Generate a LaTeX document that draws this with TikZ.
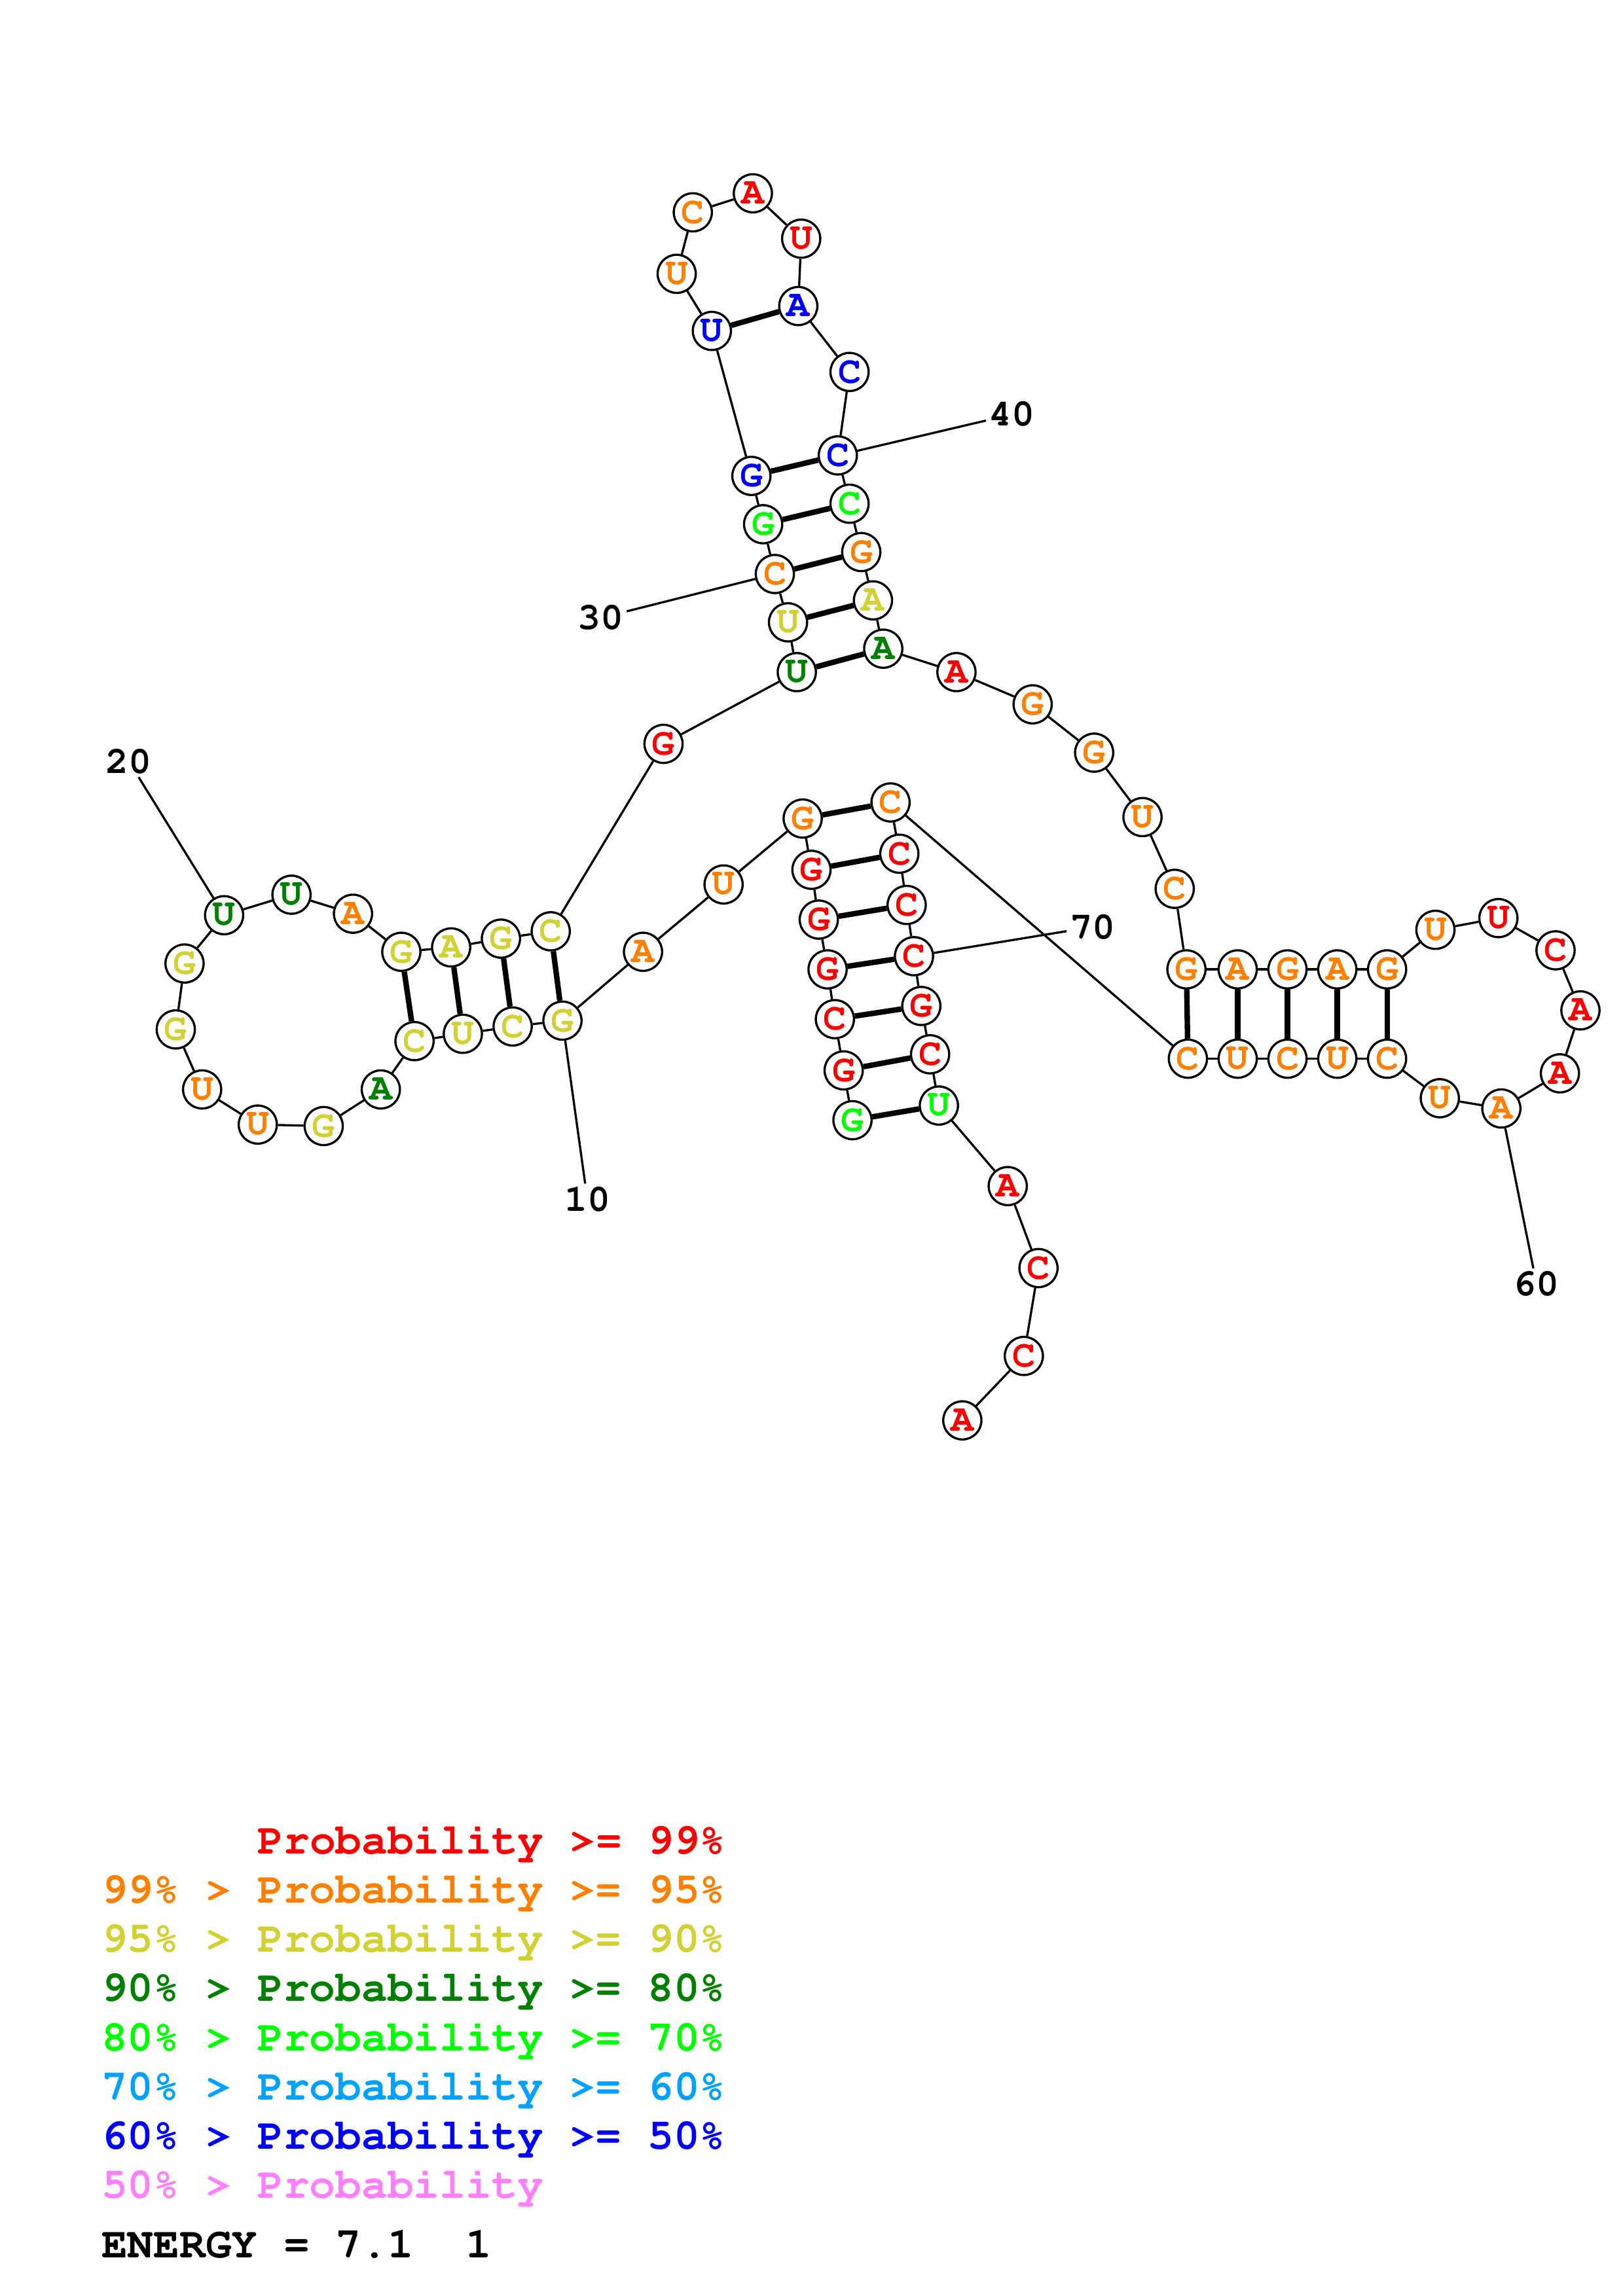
\documentclass[tikz,border=0pt]{standalone}
\usepackage[T1]{fontenc}
\usepackage{tikz}
\newcommand{\courb}[1]{\fontfamily{pcr}\fontseries{b}\fontsize{#1}{#1}\selectfont}
\definecolor{pred}{rgb}{1,0,0}
\definecolor{porange}{rgb}{1,0.5,0}
\definecolor{pyellow}{rgb}{0.82,0.82,0.2}
\definecolor{pdgreen}{rgb}{0,0.5,0}
\definecolor{plgreen}{rgb}{0,1,0}
\definecolor{plblue}{rgb}{0,0.63,1}
\definecolor{pblue}{rgb}{0,0,1}
\definecolor{ppink}{rgb}{1,0.5,1}

\begin{document}
\begin{tikzpicture}[x=0.537253pt, y=-0.537253pt,
    nuc/.style={circle, draw, line width=0.8pt, fill=white, inner sep=0pt,
      minimum size=14pt, font=\courb{14}},
    backbone/.style={line width=0.8pt},
    bond/.style={line width=2pt},
    numlbl/.style={inner sep=1pt, font=\courb{14}},
    legend/.style={anchor=base west, inner sep=0pt, font=\courb{15.9}}
  ]
    \useasboundingbox (0,0) rectangle (1108,1568);

    % nucleotides
    \foreach \i/\x/\y/\b/\c in {
      1/582/765/G/plgreen, 2/576/731/G/pred, 3/570/696/C/pred,
      4/565/662/G/pred, 5/559/628/G/pred, 6/554/594/G/pred,
      7/548/559/G/porange, 8/494/604/U/porange, 9/439/650/A/porange,
      10/384/697/G/pyellow, 11/350/701/C/pyellow, 12/316/706/U/pyellow,
      13/283/711/C/pyellow, 14/260/744/A/pdgreen, 15/221/769/G/pyellow,
      16/176/768/U/porange, 17/138/744/U/porange, 18/120/703/G/pyellow,
      19/126/658/G/pyellow, 20/153/625/U/pdgreen, 21/199/611/U/pdgreen,
      22/241/624/A/porange, 23/274/650/G/pyellow, 24/308/647/A/pyellow,
      25/342/641/G/pyellow, 26/376/636/C/pyellow, 27/453/508/G/pred,
      28/544/459/U/pdgreen, 29/538/425/U/pyellow, 30/529/392/C/porange,
      31/521/358/G/plgreen, 32/513/325/G/pblue, 33/486/226/U/pblue,
      34/462/187/U/porange, 35/473/145/C/porange, 36/514/132/A/pred,
      37/547/163/U/pred, 38/545/209/A/pblue, 39/580/254/C/pblue,
      40/572/311/C/pblue, 41/580/344/C/plgreen, 42/588/377/G/porange,
      43/596/410/A/pyellow, 44/603/443/A/pdgreen, 45/653/459/A/pred,
      46/705/481/G/porange, 47/747/514/G/porange, 48/780/558/U/porange,
      49/802/607/C/porange, 50/810/662/G/porange, 51/845/662/A/porange,
      52/879/662/G/porange, 53/913/662/A/porange, 54/947/662/G/porange,
      55/980/635/U/porange, 56/1023/627/U/pred, 57/1062/649/C/pred,
      58/1079/690/A/pred, 59/1065/733/A/pred, 60/1025/757/A/porange,
      61/983/750/U/porange, 62/947/723/C/porange, 63/913/723/U/porange,
      64/879/723/C/porange, 65/845/723/U/porange, 66/811/723/C/porange,
      67/608/548/C/porange, 68/614/583/C/pred, 69/619/618/C/pred,
      70/624/653/C/pred, 71/629/687/G/pred, 72/635/720/C/pred,
      73/641/755/U/plgreen, 74/688/810/A/pred, 75/709/866/C/pred,
      76/699/926/C/pred, 77/657/970/A/pred}
      \node[nuc, text=\c] (n\i) at (\x,\y) {\b};

    % backbone
    \foreach \i [count=\j from 2] in {1,...,76}
      \draw[backbone] (n\i) -- (n\j);

    % base pairs
    \foreach \i/\j in {1/73, 2/72, 3/71, 4/70, 5/69, 6/68, 7/67,
      10/26, 11/25, 12/24, 13/23, 28/44, 29/43, 30/42, 31/41, 32/40, 33/38,
      50/66, 51/65, 52/64, 53/63, 54/62}
      \draw[bond] (n\i) -- (n\j);

    % position labels
    \node[numlbl] (l10) at (401,819) {10};
    \node[numlbl] (l20) at (88,520) {20};
    \node[numlbl] (l30) at (410,422) {30};
    \node[numlbl] (l40) at (691,283) {40};
    \node[numlbl] (l60) at (1049,877) {60};
    \node[numlbl] (l70) at (746,633) {70};
    \foreach \k in {10,20,30,40,60,70}
      \draw[backbone] (n\k) -- (l\k);

    % legend
    \node[legend, text=pred] (p99) at (69,1266) {\phantom{99\% > }Probability >= 99\%};
    \node[legend, text=porange] (p95) at (69,1299.6) {99\% > Probability >= 95\%};
    \node[legend, text=pyellow] (p90) at (69,1333.2) {95\% > Probability >= 90\%};
    \node[legend, text=pdgreen] (p80) at (69,1366.8) {90\% > Probability >= 80\%};
    \node[legend, text=plgreen] (p70) at (69,1400.4) {80\% > Probability >= 70\%};
    \node[legend, text=plblue] (p60) at (69,1434) {70\% > Probability >= 60\%};
    \node[legend, text=pblue] (p50) at (69,1467.6) {60\% > Probability >= 50\%};
    \node[legend, text=ppink] (p00) at (69,1501.2) {50\% > Probability};
    \node[legend] (energy) at (69,1542) {ENERGY = 7.1~~1};
\end{tikzpicture}
\end{document}
